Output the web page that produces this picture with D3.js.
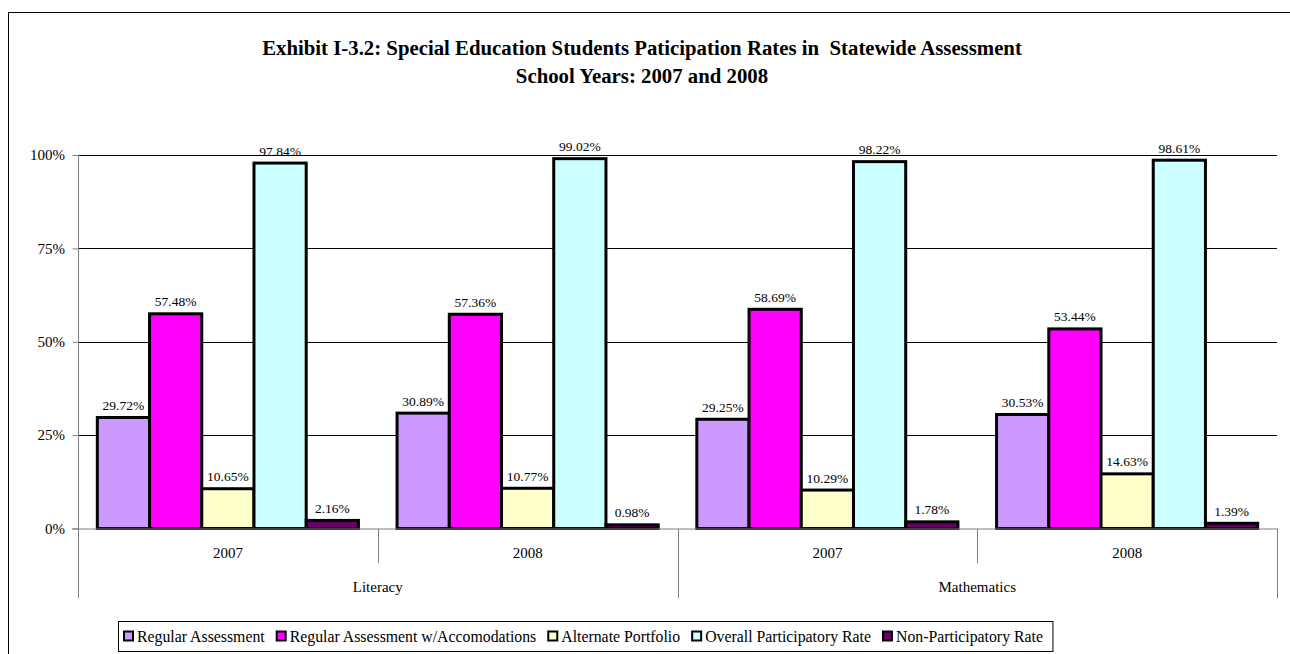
<!DOCTYPE html>
<html>
<head>
<meta charset="utf-8">
<script src="https://cdn.jsdelivr.net/npm/d3@7"></script>
<style>
  html, body { margin: 0; padding: 0; background: #fff; }
  svg { display: block; font-family: "Liberation Serif", "Times New Roman", serif; }
</style>
</head>
<body>
<svg id="chart" width="1290" height="654"></svg>
<script>
// Participation data, one array per series, ordered by category
const subjects = ["Literacy", "Mathematics"];
const years = ["2007", "2008"];
const categories = ["Literacy 2007", "Literacy 2008", "Mathematics 2007", "Mathematics 2008"];
const seriesNames = [
  "Regular Assessment",
  "Regular Assessment w/Accomodations",
  "Alternate Portfolio",
  "Overall Participatory Rate",
  "Non-Participatory Rate"
];
const regularAssessment   = [29.72, 30.89, 29.25, 30.53];
const regularWithAccom    = [57.48, 57.36, 58.69, 53.44];
const alternatePortfolio  = [10.65, 10.77, 10.29, 14.63];
const overallParticipation = [97.84, 99.02, 98.22, 98.61];
const nonParticipation    = [2.16, 0.98, 1.78, 1.39];
const seriesValues = [regularAssessment, regularWithAccom, alternatePortfolio, overallParticipation, nonParticipation];
const seriesColors = ["#CC99FF", "#FF00FF", "#FFFFCC", "#CCFFFF", "#660066"];
const yTicks = [0, 25, 50, 75, 100];
const titleLines = [
  "Exhibit I-3.2: Special Education Students Paticipation Rates in\u00A0 Statewide Assessment",
  "School Years: 2007 and 2008"
];

const svg = d3.select("#chart");

// frame around the whole chart
svg.append("rect")
  .attr("x", 8.5).attr("y", 12.5)
  .attr("width", 1300).attr("height", 700)
  .attr("fill", "none").attr("stroke", "#000").attr("stroke-width", 1);

// title
svg.append("g").selectAll("text").data(titleLines).join("text")
  .attr("x", 642).attr("y", (d, i) => 55 + i * 28)
  .attr("text-anchor", "middle")
  .attr("font-weight", "bold")
  .attr("font-size", 20.8)
  .text(d => d);

const plot = { left: 78, right: 1277, top: 155, bottom: 528.5 };

const y = d3.scaleLinear().domain([0, 100]).range([plot.bottom, plot.top]);
const x0 = d3.scaleBand().domain(categories).range([plot.left, plot.right]).padding(0);
const x1 = d3.scaleBand().domain(seriesNames).range([0, x0.bandwidth()])
  .paddingInner(0).paddingOuter(0.37);

// horizontal gridlines
svg.append("g").selectAll("line").data(yTicks.filter(t => t > 0)).join("line")
  .attr("x1", plot.left).attr("x2", plot.right)
  .attr("y1", d => Math.round(y(d)) + 0.5).attr("y2", d => Math.round(y(d)) + 0.5)
  .attr("stroke", "#000").attr("stroke-width", 1);

// value axis
const yAxis = svg.append("g")
  .attr("transform", `translate(${plot.left + 0.5},0)`)
  .call(d3.axisLeft(y).tickValues(yTicks).tickSize(6).tickPadding(7.5).tickFormat(d => d + "%"));
yAxis.select(".domain").remove();
yAxis.selectAll(".tick line").attr("stroke", "#808080");
yAxis.selectAll(".tick text")
  .attr("font-family", "Liberation Serif, Times New Roman, serif")
  .attr("font-size", 15).attr("fill", "#000");
svg.append("line")
  .attr("x1", plot.left + 0.5).attr("x2", plot.left + 0.5)
  .attr("y1", plot.top).attr("y2", 598)
  .attr("stroke", "#808080");

// bars
const rows = categories.map((c, i) => ({ cat: c, vals: seriesNames.map((s, j) => ({ s, j, v: seriesValues[j][i] })) }));
const groups = svg.append("g").selectAll("g").data(rows).join("g")
  .attr("transform", d => `translate(${x0(d.cat)},0)`);
groups.selectAll("rect").data(d => d.vals).join("rect")
  .attr("x", d => x1(d.s))
  .attr("y", d => y(d.v))
  .attr("width", x1.bandwidth())
  .attr("height", d => y(0) - y(d.v))
  .attr("fill", d => seriesColors[d.j])
  .attr("stroke", "#000").attr("stroke-width", 3);
groups.selectAll("text").data(d => d.vals).join("text")
  .attr("x", d => x1(d.s) + x1.bandwidth() / 2)
  .attr("y", d => y(d.v) - 7.5)
  .attr("text-anchor", "middle")
  .attr("font-size", 13.5)
  .text(d => d.v.toFixed(2) + "%");

// category axis baseline
svg.append("line")
  .attr("x1", plot.left - 6).attr("x2", plot.right)
  .attr("y1", plot.bottom + 0.5).attr("y2", plot.bottom + 0.5)
  .attr("stroke", "#808080");

// category separators: short between years, long between subjects
const seps = d3.range(1, categories.length + 1).map(i => ({
  x: plot.left + i * x0.step(),
  long: i % years.length === 0
}));
svg.append("g").selectAll("line").data(seps).join("line")
  .attr("x1", d => Math.round(d.x) + 0.5).attr("x2", d => Math.round(d.x) + 0.5)
  .attr("y1", plot.bottom).attr("y2", d => d.long ? 598 : 563)
  .attr("stroke", "#808080");

// year labels
svg.append("g").selectAll("text").data(categories).join("text")
  .attr("x", d => x0(d) + x0.bandwidth() / 2)
  .attr("y", 558)
  .attr("text-anchor", "middle")
  .attr("font-size", 15)
  .text((d, i) => years[i % years.length]);

// subject labels
svg.append("g").selectAll("text").data(subjects).join("text")
  .attr("x", (d, i) => plot.left + (i * 2 + 1) * x0.step())
  .attr("y", 592)
  .attr("text-anchor", "middle")
  .attr("font-size", 15)
  .text(d => d);

// legend
const legend = svg.append("g");
const legendBox = legend.append("rect")
  .attr("x", 118.5).attr("y", 621.5).attr("height", 30)
  .attr("fill", "#fff").attr("stroke", "#000").attr("stroke-width", 1);
let lx = 123;
const itemGap = 11;
let textEnd = lx;
seriesNames.forEach((name, j) => {
  legend.append("rect")
    .attr("x", lx + 1).attr("y", 631.5)
    .attr("width", 9).attr("height", 9)
    .attr("fill", seriesColors[j]).attr("stroke", "#000").attr("stroke-width", 2);
  const t = legend.append("text")
    .attr("x", lx + 14).attr("y", 641.5)
    .attr("font-size", 15.8)
    .text(name);
  textEnd = lx + 14 + t.node().getComputedTextLength();
  lx = textEnd + itemGap;
});
legendBox.attr("width", textEnd + 10 - 118.5);
</script>
</body>
</html>
